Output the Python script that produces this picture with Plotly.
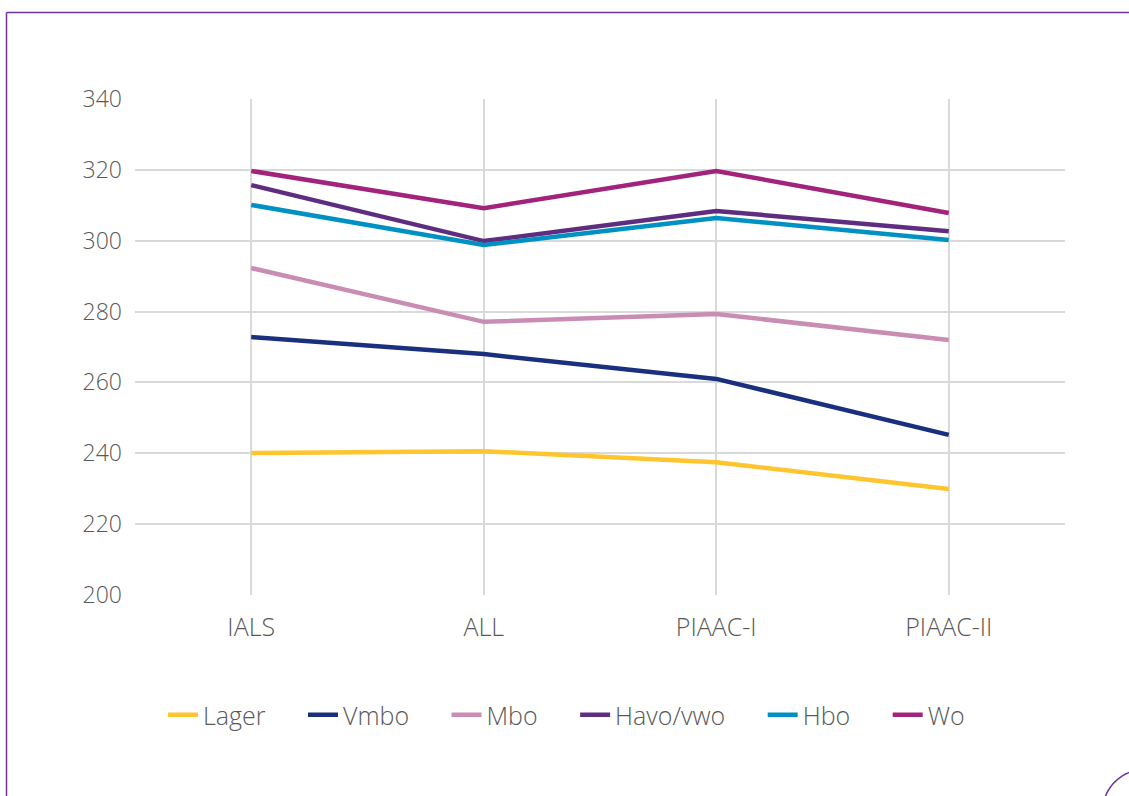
import plotly.graph_objects as go
import math

categories = ["IALS", "ALL", "PIAAC-I", "PIAAC-II"]
lager = [240.1, 240.6, 237.5, 229.9]
vmbo = [272.8, 268.0, 261.0, 245.2]
mbo = [292.3, 277.1, 279.3, 272.0]
havo_vwo = [315.7, 299.9, 308.4, 302.7]
hbo = [310.1, 298.8, 306.4, 300.2]
wo = [319.7, 309.2, 319.7, 307.8]

series = [
    ("Lager", lager, "#FFC52F"),
    ("Vmbo", vmbo, "#1A2F7D"),
    ("Mbo", mbo, "#C98CB2"),
    ("Havo/vwo", havo_vwo, "#5F2D7F"),
    ("Hbo", hbo, "#0091C3"),
    ("Wo", wo, "#A1237B"),
]

W, H = 1129, 796
L, R, T, B = 135, 1065, 99, 595

fig = go.Figure()
pad = "\u00a0" * 5
for name, vals, col in series:
    fig.add_trace(go.Scatter(x=categories, y=vals, name=name + pad, mode="lines",
                             line=dict(color=col, width=4.5)))

def px(x):
    return (x - L) / (R - L)

def py(y):
    return (B - y) / (B - T)

border = "#7030A0"
shapes = []
shapes.append(dict(type="line", xref="paper", yref="paper",
                   x0=px(6.5), y0=py(12.5), x1=px(6.5), y1=py(800),
                   line=dict(color=border, width=1.5)))
shapes.append(dict(type="line", xref="paper", yref="paper",
                   x0=px(6.5), y0=py(12.5), x1=px(1135), y1=py(12.5),
                   line=dict(color=border, width=1.5)))
cx, cy, rad = 1145, 812, 42.6
pts = []
for i in range(0, 41):
    a = math.radians(180 + 90 * i / 40)
    pts.append((cx + rad * math.cos(a), cy + rad * math.sin(a)))
path = "M " + " L ".join(f"{px(x):.5f},{py(y):.5f}" for x, y in pts)
shapes.append(dict(type="path", xref="paper", yref="paper", path=path,
                   line=dict(color=border, width=1.5)))

tf = dict(family="Open Sans, sans-serif", size=23, color="#595959", weight=300)
tf_wide = dict(tf, size=25)
fig.update_layout(
    width=W, height=H,
    margin=dict(l=L, r=W - R, t=T, b=H - B, autoexpand=False),
    paper_bgcolor="white", plot_bgcolor="white",
    font=tf,
    showlegend=True,
    legend=dict(orientation="h", x=px(163), xanchor="left", y=py(715), yanchor="middle",
                font=tf_wide, itemwidth=30, traceorder="normal"),
    shapes=shapes,
    xaxis=dict(type="category", range=[-0.5, 3.5], showgrid=True, gridcolor="#D9D9D9",
               gridwidth=1.5, showline=False, zeroline=False, ticks="",
               ticklabelstandoff=15, tickfont=tf_wide),
    yaxis=dict(range=[200, 340], tickvals=[200, 220, 240, 260, 280, 300, 320, 340],
               showgrid=True, gridcolor="#D9D9D9", gridwidth=1.5, zeroline=False,
               showline=False, ticks="", ticklabelstandoff=12, tickfont=tf),
)

fig.write_html("out.html", post_script="document.body.style.margin='0';",
               config={"displayModeBar": False})
